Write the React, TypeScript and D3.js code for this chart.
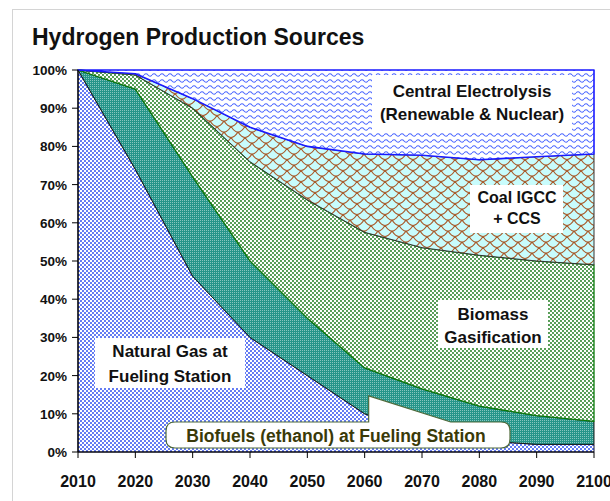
import React from 'react';
import * as d3 from 'd3';

const years = [2010, 2020, 2030, 2040, 2050, 2060, 2070, 2080, 2090, 2100];
const naturalGas = [100, 74, 46, 30, 20, 10, 5, 3, 2, 2];
const biofuels = [0, 21, 26, 20, 15, 12, 11.5, 9, 7.5, 6];
const biomass = [0, 3.7, 18, 26, 31, 35.5, 37, 39.5, 40.5, 41];
const coal = [0, 0.3, 2.5, 9, 14, 20.5, 24.2, 25, 27.3, 29];
const electrolysis = [0, 1, 7.5, 15, 20, 22, 22.3, 23.5, 22.7, 22];
const yTicks = [0, 10, 20, 30, 40, 50, 60, 70, 80, 90, 100];
const xTicks = [2010, 2020, 2030, 2040, 2050, 2060, 2070, 2080, 2090, 2100];
const seriesKeys = ['naturalGas', 'biofuels', 'biomass', 'coal', 'electrolysis'];

const FONT = "'Liberation Sans', Arial, sans-serif";

export default function App() {
  const W = 610, H = 501;
  const x = d3.scaleLinear().domain([2010, 2100]).range([78, 594]);
  const y = d3.scaleLinear().domain([0, 100]).range([452, 70]);
  const rows = years.map((yr, i) => ({
    year: yr,
    naturalGas: naturalGas[i],
    biofuels: biofuels[i],
    biomass: biomass[i],
    coal: coal[i],
    electrolysis: electrolysis[i],
  }));
  const stacked = d3.stack<any>().keys(seriesKeys)(rows);
  const area = d3.area<any>()
    .x((d: any) => x(d.data.year))
    .y0((d: any) => y(d[0]))
    .y1((d: any) => y(d[1]))
    .curve(d3.curveLinear);

  const styles: Record<string, { fill: string; stroke: string; sw: number }> = {
    naturalGas: { fill: 'url(#pNG)', stroke: '#111133', sw: 1 },
    biofuels: { fill: 'url(#pBio)', stroke: '#1a1a1a', sw: 1 },
    biomass: { fill: 'url(#pGreen)', stroke: '#0a7a0a', sw: 1.3 },
    coal: { fill: 'url(#pCoal)', stroke: '#333333', sw: 1 },
    electrolysis: { fill: 'url(#pWave)', stroke: '#1a1aff', sw: 1.6 },
  };

  const x0 = x(2010), x1 = x(2100), yb = y(0), yt = y(100);

  // callout geometry
  const cL = 166, cR = 510, cT = 422, cB = 448, r = 9;
  const tipX = x(2060) + 4, tipY = y(14.7);
  const wedgeR = x(2075);
  const callout = `M${cL + r},${cT} L${tipX},${cT} L${tipX},${tipY} L${wedgeR},${cT} L${cR - r},${cT} Q${cR},${cT} ${cR},${cT + r} L${cR},${cB - r} Q${cR},${cB} ${cR - r},${cB} L${cL + r},${cB} Q${cL},${cB} ${cL},${cB - r} L${cL},${cT + r} Q${cL},${cT} ${cL + r},${cT} Z`;

  const labelStyle = { fontFamily: FONT, fontWeight: 700 as const, fontSize: 17, fill: '#111' };

  return (
    <svg width={W} height={H} style={{ position: 'absolute', left: 0, top: 0, background: '#fff' }}>
      <defs>
        <pattern id="pNG" patternUnits="userSpaceOnUse" width="4" height="4">
          <rect width="4" height="4" fill="#ffffff" />
          <circle cx="1" cy="1" r="0.95" fill="#2244ee" />
          <circle cx="3" cy="3" r="0.95" fill="#2244ee" />
        </pattern>
        <pattern id="pBio" patternUnits="userSpaceOnUse" width="2" height="2">
          <rect width="2" height="2" fill="#25958a" />
          <rect width="1" height="1" fill="#86c6be" />
        </pattern>
        <pattern id="pGreen" patternUnits="userSpaceOnUse" width="4" height="4">
          <rect width="4" height="4" fill="#ffffff" />
          <circle cx="1" cy="1" r="0.9" fill="#0a700a" />
          <circle cx="3" cy="3" r="0.9" fill="#0a700a" />
        </pattern>
        <pattern id="pCoal" patternUnits="userSpaceOnUse" width="14" height="11">
          <rect width="14" height="11" fill="#c8fcfc" />
          <path d="M0,0 Q7,11 14,0 M-7,5.5 Q0,16.5 7,5.5 M7,5.5 Q14,16.5 21,5.5 M-7,-5.5 Q0,5.5 7,-5.5 M7,-5.5 Q14,5.5 21,-5.5 M0,11 Q7,22 14,11"
            fill="none" stroke="#a85828" strokeWidth="1.2" />
        </pattern>
        <pattern id="pWave" patternUnits="userSpaceOnUse" width="8" height="6">
          <rect width="8" height="6" fill="#ffffff" />
          <path d="M0,3 Q2,0.5 4,3 T8,3" fill="none" stroke="#4a66ff" strokeWidth="1.1" />
        </pattern>
      </defs>

      {/* chart frame */}
      <rect x={12.5} y={9.5} width={700} height={600} fill="none" stroke="#d4d4d4" strokeWidth={1} />

      {/* title */}
      <text x={32} y={45} style={{ fontFamily: FONT, fontWeight: 700, fontSize: 23, fill: '#111' }}>
        Hydrogen Production Sources
      </text>

      {/* areas */}
      {stacked.map((s: any) => (
        <path key={s.key} d={area(s) || ''} fill={styles[s.key].fill}
          stroke={styles[s.key].stroke} strokeWidth={styles[s.key].sw} strokeLinejoin="round" />
      ))}

      {/* y axis */}
      <line x1={x0} x2={x0} y1={yt} y2={yb} stroke="#000" strokeWidth={1.2} />
      {yTicks.map(t => (
        <g key={t}>
          <line x1={x0 - 6} x2={x0} y1={y(t)} y2={y(t)} stroke="#000" strokeWidth={1} />
          <text x={67} y={y(t) + 5} textAnchor="end"
            style={{ fontFamily: FONT, fontSize: 13.5, fontWeight: 700, fill: '#111' }}>
            {t}%
          </text>
        </g>
      ))}

      {/* x axis */}
      <line x1={x0} x2={x1} y1={yb} y2={yb} stroke="#000" strokeWidth={1.2} />
      {xTicks.map(t => (
        <g key={t}>
          <line x1={x(t)} x2={x(t)} y1={yb} y2={yb + 6} stroke="#000" strokeWidth={1} />
          <text x={x(t)} y={487} textAnchor="middle"
            style={{ fontFamily: FONT, fontSize: 16, fontWeight: 700, fill: '#111' }}>
            {t}
          </text>
        </g>
      ))}

      {/* labels */}
      <rect x={372} y={75} width={200} height={57} fill="#fff" />
      <text x={472} y={97} textAnchor="middle" style={labelStyle}>Central Electrolysis</text>
      <text x={472} y={120} textAnchor="middle" style={labelStyle}>(Renewable &amp; Nuclear)</text>

      <rect x={470} y={185} width={93} height={48} fill="#fff" />
      <text x={517} y={203} textAnchor="middle" style={{ ...labelStyle, fontSize: 16 }}>Coal IGCC</text>
      <text x={517} y={224} textAnchor="middle" style={{ ...labelStyle, fontSize: 16 }}>+ CCS</text>

      <rect x={438} y={300} width={110} height={48} fill="#fff" />
      <text x={493} y={320} textAnchor="middle" style={labelStyle}>Biomass</text>
      <text x={493} y={343} textAnchor="middle" style={labelStyle}>Gasification</text>

      <rect x={95} y={338} width={150} height={50} fill="#fff" />
      <text x={170} y={357} textAnchor="middle" style={labelStyle}>Natural Gas at</text>
      <text x={170} y={382} textAnchor="middle" style={labelStyle}>Fueling Station</text>

      <path d={callout} fill="#fff" stroke="#4f6a3a" strokeWidth={1.2} />
      <text x={336} y={442} textAnchor="middle"
        style={{ fontFamily: FONT, fontWeight: 700, fontSize: 17.5, fill: '#3a3a08' }}>
        Biofuels (ethanol) at Fueling Station
      </text>
    </svg>
  );
}
